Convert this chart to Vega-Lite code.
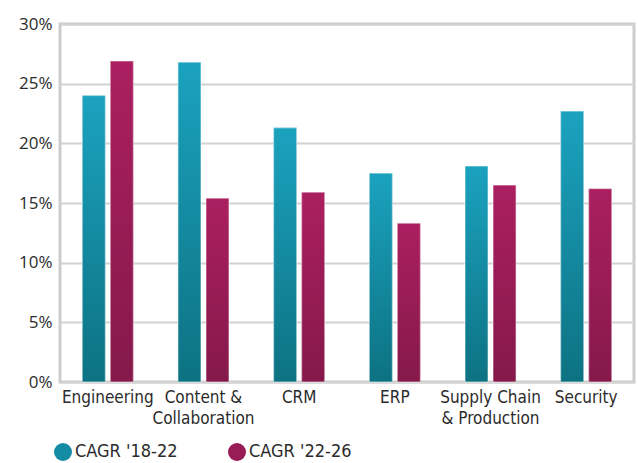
{
  "$schema": "https://vega.github.io/schema/vega-lite/v6.json",
  "autosize": "none",
  "width": 574,
  "height": 358,
  "padding": {"left": 60, "top": 24, "right": 4, "bottom": 81},
  "background": "white",
  "data": {
    "values": [
      {"category": "Engineering", "series": "CAGR '18-22", "value": 0.240},
      {"category": "Engineering", "series": "CAGR '22-26", "value": 0.269},
      {"category": "Content & Collaboration", "series": "CAGR '18-22", "value": 0.268},
      {"category": "Content & Collaboration", "series": "CAGR '22-26", "value": 0.154},
      {"category": "CRM", "series": "CAGR '18-22", "value": 0.213},
      {"category": "CRM", "series": "CAGR '22-26", "value": 0.159},
      {"category": "ERP", "series": "CAGR '18-22", "value": 0.175},
      {"category": "ERP", "series": "CAGR '22-26", "value": 0.133},
      {"category": "Supply Chain & Production", "series": "CAGR '18-22", "value": 0.181},
      {"category": "Supply Chain & Production", "series": "CAGR '22-26", "value": 0.165},
      {"category": "Security", "series": "CAGR '18-22", "value": 0.227},
      {"category": "Security", "series": "CAGR '22-26", "value": 0.162}
    ]
  },
  "encoding": {
    "x": {
      "field": "category",
      "type": "nominal",
      "sort": null,
      "scale": {"paddingInner": 0.467, "paddingOuter": 0.233},
      "axis": {
        "title": null,
        "labelAngle": 0,
        "ticks": false,
        "domain": false,
        "labelFont": "DejaVu Sans Condensed",
        "labelFontSize": 17,
        "labelColor": "#2b2b2b",
        "labelPadding": 7,
        "labelLineHeight": 21,
        "labelBaseline": "top",
        "labelLimit": 200,
        "labelExpr": "datum.value == 'Content & Collaboration' ? ['Content &', 'Collaboration'] : datum.value == 'Supply Chain & Production' ? ['Supply Chain', '& Production'] : datum.value"
      }
    },
    "xOffset": {
      "field": "series",
      "type": "nominal",
      "scale": {"paddingInner": 0.18}
    },
    "y": {
      "field": "value",
      "type": "quantitative",
      "scale": {"domain": [0, 0.3]},
      "axis": {
        "title": null,
        "format": ".0%",
        "values": [0, 0.05, 0.1, 0.15, 0.2, 0.25, 0.3],
        "ticks": false,
        "domain": false,
        "labelFont": "Open Sans",
        "labelFontSize": 17,
        "labelColor": "#2b2b2b",
        "labelPadding": 8,
        "gridColor": "#d2d2d2",
        "gridWidth": 2,
        "gridOpacity": 1
      }
    }
  },
  "layer": [
    {
      "mark": {"type": "bar"},
      "encoding": {
        "color": {
          "field": "series",
          "type": "nominal",
          "scale": {"domain": ["CAGR '18-22", "CAGR '22-26"], "range": ["#158ca5", "#981c55"]},
          "legend": {
            "title": null,
            "orient": "none",
            "legendX": -6,
            "legendY": 419,
            "direction": "horizontal",
            "columns": 2,
            "columnPadding": 50,
            "symbolType": "circle",
            "symbolSize": 324,
            "symbolStrokeWidth": 0,
            "labelFont": "DejaVu Sans Condensed",
            "labelFontSize": 18,
            "labelColor": "#2b2b2b",
            "labelOffset": 3,
            "encode": {
              "symbols": {
                "update": {
                  "fill": {"signal": "datum.value == \"CAGR '18-22\" ? {gradient: 'linear', x1: 0, y1: 0, x2: 1, y2: 0, stops: [{offset: 0, color: '#1ba8c4'}, {offset: 1, color: '#0d7282'}]} : {gradient: 'linear', x1: 0, y1: 0, x2: 1, y2: 0, stops: [{offset: 0, color: '#b0205f'}, {offset: 1, color: '#85194a'}]}"}
                }
              }
            }
          }
        }
      }
    },
    {
      "mark": {"type": "bar", "stroke": "white", "strokeOpacity": 0.55, "strokeWidth": 1},
      "encoding": {
        "fill": {
          "condition": {
            "test": "datum.series == \"CAGR '18-22\"",
            "value": {"gradient": "linear", "x1": 0, "y1": 0, "x2": 0, "y2": 1, "stops": [{"offset": 0, "color": "#1ba2bf"}, {"offset": 1, "color": "#0d7282"}]}
          },
          "value": {"gradient": "linear", "x1": 0, "y1": 0, "x2": 0, "y2": 1, "stops": [{"offset": 0, "color": "#ab1f60"}, {"offset": 1, "color": "#85194a"}]}
        }
      }
    }
  ],
  "config": {
    "view": {"stroke": "#cccccc", "strokeWidth": 3},
    "axis": {"gridCap": "butt"}
  }
}
